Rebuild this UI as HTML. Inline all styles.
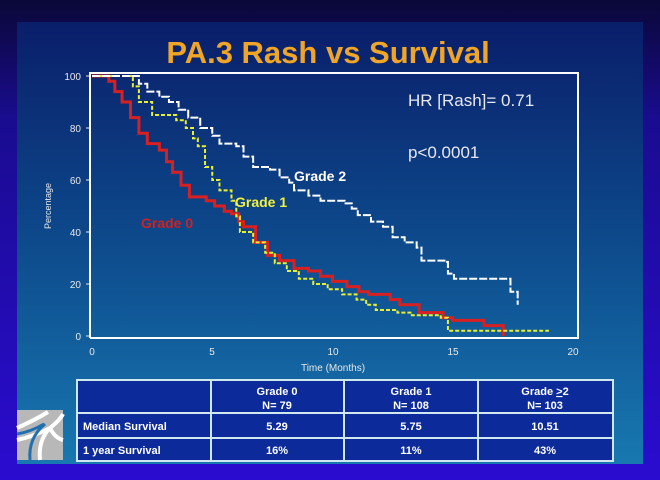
<!DOCTYPE html>
<html><head><meta charset="utf-8"><style>
html,body{margin:0;padding:0;width:660px;height:480px;overflow:hidden;background:#2a10c8;}
</style></head><body>
<svg width="660" height="480" viewBox="0 0 660 480" xmlns="http://www.w3.org/2000/svg" style="display:block">
<defs>
<linearGradient id="bg" x1="0" y1="0" x2="0" y2="1">
<stop offset="0" stop-color="#0a1e6a"/><stop offset="0.5" stop-color="#0d4a8c"/><stop offset="1" stop-color="#1878b0"/>
</linearGradient>
<linearGradient id="outer" x1="0" y1="0" x2="0" y2="1">
<stop offset="0" stop-color="#0a0838"/><stop offset="0.25" stop-color="#1a0c90"/><stop offset="1" stop-color="#2a0cd0"/>
</linearGradient>
</defs>
<rect width="660" height="480" fill="url(#outer)"/>
<rect x="17" y="22" width="626" height="442" fill="url(#bg)"/>
<text x="328" y="63" text-anchor="middle" font-family="Liberation Sans, sans-serif" font-weight="bold" font-size="31" fill="#f0a526">PA.3 Rash vs Survival</text>
<polyline points="90,338 90,73 578,73 578,338 90,338" fill="none" stroke="#ffffff" stroke-width="2"/>
<g font-family="Liberation Sans, sans-serif" font-size="10" fill="#e8e8e8">
<text x="81" y="80" text-anchor="end">100</text>
<text x="81" y="132" text-anchor="end">80</text>
<text x="81" y="184" text-anchor="end">60</text>
<text x="81" y="236" text-anchor="end">40</text>
<text x="81" y="288" text-anchor="end">20</text>
<text x="81" y="340" text-anchor="end">0</text>
<text x="92" y="355" text-anchor="middle">0</text>
<text x="212" y="355" text-anchor="middle">5</text>
<text x="333" y="355" text-anchor="middle">10</text>
<text x="453" y="355" text-anchor="middle">15</text>
<text x="573" y="355" text-anchor="middle">20</text>
<text x="333" y="371" text-anchor="middle">Time (Months)</text>
<text transform="translate(51,206) rotate(-90)" text-anchor="middle" font-size="9">Percentage</text>
</g>
<g stroke="#e8e8e8" stroke-width="1">
<line x1="86" y1="76" x2="90" y2="76"/><line x1="86" y1="128" x2="90" y2="128"/><line x1="86" y1="180" x2="90" y2="180"/>
<line x1="86" y1="232" x2="90" y2="232"/><line x1="86" y1="284" x2="90" y2="284"/><line x1="86" y1="336" x2="90" y2="336"/>
</g>
<g id="curves"></g>
<g font-family="Liberation Sans, sans-serif">
<text x="408" y="106" font-size="17" fill="#e8e8f0">HR [Rash]= 0.71</text>
<text x="408" y="158" font-size="17" fill="#e8e8f0">p&lt;0.0001</text>
<text x="294" y="181" font-size="14" fill="#ffffff" font-weight="bold">Grade 2</text>
<text x="235" y="207" font-size="14" fill="#f0f040" font-weight="bold">Grade 1</text>
<text x="141" y="228" font-size="14" fill="#d02020" font-weight="bold">Grade 0</text>
</g>
<g>
<rect x="77" y="380" width="536" height="81" fill="#0c2a9a" stroke="#d0e8f0" stroke-width="2"/>
<line x1="77" y1="413" x2="613" y2="413" stroke="#d0e8f0" stroke-width="2"/>
<line x1="77" y1="438" x2="613" y2="438" stroke="#d0e8f0" stroke-width="2"/>
<line x1="211" y1="380" x2="211" y2="461" stroke="#d0e8f0" stroke-width="2"/>
<line x1="344" y1="380" x2="344" y2="461" stroke="#d0e8f0" stroke-width="2"/>
<line x1="478" y1="380" x2="478" y2="461" stroke="#d0e8f0" stroke-width="2"/>
<g font-family="Liberation Sans, sans-serif" font-weight="bold" font-size="11" fill="#ffffff" text-anchor="middle">
<text x="277" y="395">Grade 0</text><text x="277" y="409">N= 79</text>
<text x="411" y="395">Grade 1</text><text x="411" y="409">N= 108</text>
<text x="545" y="395">Grade <tspan text-decoration="underline">&gt;</tspan>2</text><text x="545" y="409">N= 103</text>
<text x="277" y="430">5.29</text><text x="411" y="430">5.75</text><text x="545" y="430">10.51</text>
<text x="277" y="454">16%</text><text x="411" y="454">11%</text><text x="545" y="454">43%</text>
<text x="83" y="430" text-anchor="start">Median Survival</text>
<text x="83" y="454" text-anchor="start">1 year Survival</text>
</g>
</g>
<rect x="17" y="410" width="46" height="50" fill="#b8b8b8"/>
<path d="M17,428 Q35,420 48,412 M17,440 Q35,436 50,428 Q60,420 63,414 M40,460 Q38,440 50,428 M63,440 Q55,438 50,428" stroke="#ffffff" stroke-width="4" fill="none"/>
<path d="M30,460 Q28,438 45,424 M17,434 Q30,432 44,424" stroke="#2070b0" stroke-width="3" fill="none"/>
</svg>
<script>
function X(t){return 92+24.05*t}
function Y(p){return 336-2.6*p}
function step(pts){var s="M"+X(pts[0][0])+","+Y(pts[0][1]);for(var i=1;i<pts.length;i++){s+=" H"+X(pts[i][0])+" V"+Y(pts[i][1]);}return s;}
var g2=[[0,100],[1.8,100],[1.95,97],[2.3,94],[2.8,92],[3.2,90],[3.6,87],[4.0,84],[4.5,80],[5.0,77],[5.3,74],[6.0,73],[6.3,69],[6.7,65],[7.4,64],[7.8,61],[8.2,59],[8.4,56],[9.0,54],[9.5,52],[10.5,51],[10.8,49],[11.05,46.5],[11.6,44],[12.1,42],[12.5,38],[13.0,36],[13.5,34],[13.7,29],[14.7,28.5],[14.8,24],[15.05,22],[17.35,22],[17.4,17],[17.7,16],[17.7,12]];
var g1=[[0,100],[1.6,100],[1.7,96],[1.95,90],[2.5,85],[3.5,83],[3.9,80],[4.2,76],[4.4,73],[4.7,65],[5.0,60],[5.3,56],[5.8,52],[6.0,46],[6.15,40],[6.7,36],[7.2,32],[7.6,28],[8.1,25],[8.6,22],[9.2,20],[9.8,18],[10.4,16],[11,14],[11.4,12],[11.8,10],[12.7,9],[13.3,8],[14.5,7],[14.8,2],[19,2]];
var g0=[[0,100],[0.55,100],[0.7,98],[0.95,94],[1.25,90],[1.6,84],[1.95,78],[2.3,74],[2.8,71.5],[3.1,67],[3.35,63],[3.7,58],[4.05,53.5],[4.75,52],[5.1,50],[5.5,48],[5.8,47],[6.1,44],[6.3,42],[6.8,36],[7.3,31],[7.8,29],[8.4,26],[9,25],[9.5,23],[10,21],[10.6,19],[11.1,17],[11.5,16],[12.4,14],[12.8,12],[13.6,9],[14.6,7],[15,6],[16.3,4],[17.1,3],[17.1,0]];
var c=document.getElementById('curves');
c.innerHTML='<path d="'+step(g0)+'" fill="none" stroke="#d82020" stroke-width="3"/>'+
'<path d="'+step(g1)+'" fill="none" stroke="#e8f030" stroke-width="2" stroke-dasharray="4,2"/>'+
'<path d="'+step(g2)+'" fill="none" stroke="#ffffff" stroke-width="2" stroke-dasharray="8,2"/>';
</script>
</body></html>
